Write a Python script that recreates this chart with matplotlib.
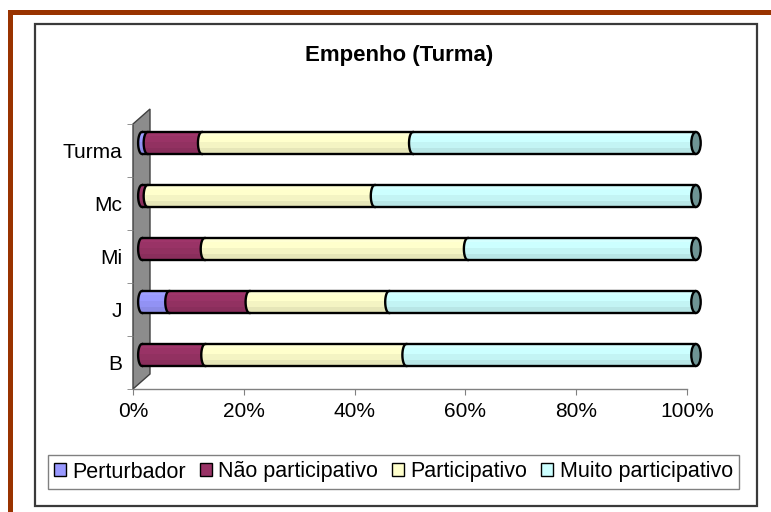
import matplotlib
matplotlib.use('Agg')
import matplotlib.pyplot as plt
import numpy as np
from matplotlib.patches import Polygon, Rectangle, Ellipse, Patch
from matplotlib.transforms import offset_copy, Affine2D
import matplotlib.colors as mcolors

# ---------------- data ----------------
categories = ['B', 'J', 'Mi', 'Mc', 'Turma']
series_names = ['Perturbador', 'Não participativo', 'Participativo', 'Muito participativo']
perturbador = [0.0, 4.9, 0.0, 0.0, 1.0]
nao_participativo = [11.4, 14.5, 11.3, 1.0, 9.8]
participativo = [36.3, 25.2, 47.5, 41.0, 38.1]
muito_participativo = [52.3, 55.4, 41.2, 58.0, 51.1]
x_ticks = [0, 20, 40, 60, 80, 100]
x_tick_labels = ['0%', '20%', '40%', '60%', '80%', '100%']
title = 'Empenho (Turma)'

colors = ['#9999FF', '#993366', '#FFFFCC', '#CCFFFF']
cap_color = '#6E9494'

plt.rcParams['font.family'] = ['Liberation Sans', 'DejaVu Sans']
FS = 15

W, H = 771, 512
fig = plt.figure(figsize=(W / 100, H / 100), dpi=100)
px = Affine2D().scale(1 / W, -1 / H).translate(0, 1) + fig.transFigure

# outer brown frame (top and left)
fig.patches.append(Rectangle((8, 10), W - 8, 5, transform=px, fc='#993300', ec='none'))
fig.patches.append(Rectangle((8, 10), 5, H - 10, transform=px, fc='#993300', ec='none'))
# chart area box
fig.patches.append(Rectangle((34.5, 23.5), 722, 482.5, transform=px, fc='none',
                             ec='#3A3A3A', lw=1.6))

fig.text(399 / W, 1 - 55 / H, title, ha='center', va='center',
         fontsize=16, fontweight='bold')

ax_l, ax_r, ax_b, ax_t = 133, 687, 389, 124
ax = fig.add_axes([ax_l / W, 1 - ax_b / H, (ax_r - ax_l) / W, (ax_b - ax_t) / H])
ax.set_xlim(0, 100)
ax.set_ylim(-0.5, len(categories) - 0.5)

for s in ['top', 'right', 'left']:
    ax.spines[s].set_visible(False)
ax.spines['bottom'].set_color('#808080')
ax.spines['bottom'].set_linewidth(1.0)
ax.set_xticks(x_ticks)
ax.set_xticklabels(x_tick_labels)
ax.tick_params(axis='x', direction='out', length=4.3, color='#808080',
               labelsize=FS, pad=5)
ax.set_yticks(range(len(categories)))
ax.set_yticklabels(categories)
ax.tick_params(axis='y', which='major', length=0, labelsize=FS, pad=8)
ax.set_yticks(np.arange(-0.5, len(categories), 1.0), minor=True)
ax.tick_params(axis='y', which='minor', length=4.3, color='#808080', direction='out')

# side wall (3D depth)
dx = 17 / (ax_r - ax_l)
dy = 15 / (ax_b - ax_t)
wall = Polygon([(0, 0), (dx, dy), (dx, 1 + dy), (0, 1)], closed=True,
               transform=ax.transAxes, fc='#8C8C8C', ec='#404040', lw=1.0,
               clip_on=False, zorder=1)
ax.add_patch(wall)

# bars (3D cylinders, shifted by half the depth)
trans = offset_copy(ax.transData, fig=fig, x=9, y=7.5, units='dots')
series = [perturbador, nao_participativo, participativo, muito_participativo]
bar_h = 0.415
b = bar_h / 2
a = 0.7
a_cap = 0.85
t = np.linspace(np.pi / 2, 3 * np.pi / 2, 40)
bands = [(0.0, 0.18, 1.04), (0.18, 0.45, 1.0), (0.45, 0.72, 0.955), (0.72, 1.0, 0.9)]


def shade(c, f):
    r, g, bb = mcolors.to_rgb(c)
    return (min(r * f, 1), min(g * f, 1), min(bb * f, 1))


for j in range(len(categories)):
    total = sum(s[j] for s in series)
    start = 0.0
    for i, s in enumerate(series):
        v = s[j] / total * 100
        if v <= 0:
            continue
        x0, x1 = start, start + v
        left = np.column_stack([x0 + a * np.cos(t), j + b * np.sin(t)])
        right = np.column_stack([x1 + a * np.cos(t[::-1]), j + b * np.sin(t[::-1])])
        poly = Polygon(np.vstack([left, right]), closed=True, transform=trans,
                       fc=colors[i], ec='none', clip_on=False, zorder=3)
        ax.add_patch(poly)
        for f0, f1, fac in bands:
            r = Rectangle((x0 - a, j + b - 2 * b * f1), v + a, 2 * b * (f1 - f0),
                          transform=trans, fc=shade(colors[i], fac), ec='none',
                          zorder=3)
            r.set_clip_path(poly)
            ax.add_patch(r)
        ax.plot([x0, x1], [j + b, j + b], transform=trans, color='black', lw=1.7,
                solid_capstyle='butt', zorder=4, clip_on=False)
        ax.plot([x0, x1], [j - b, j - b], transform=trans, color='black', lw=1.7,
                solid_capstyle='butt', zorder=4, clip_on=False)
        ax.plot(left[:, 0], left[:, 1], transform=trans, color='black', lw=1.7,
                zorder=4, clip_on=False)
        start = x1
    cap = Ellipse((start, j), 2 * a_cap, 2 * b, transform=trans, fc=cap_color,
                  ec='black', lw=1.7, clip_on=False, zorder=5)
    ax.add_patch(cap)

handles = [Patch(fc=c, ec='black', lw=1.0) for c in colors]
leg = fig.legend(handles, series_names, loc='center',
                 bbox_to_anchor=(393.5 / W, 1 - 472 / H), bbox_transform=fig.transFigure,
                 ncol=4, fontsize=15.5, handlelength=0.55, handleheight=0.55,
                 handletextpad=0.3, columnspacing=0.65, borderpad=0.3,
                 fancybox=False, framealpha=1, edgecolor='#808080')
leg.get_frame().set_linewidth(1.0)

fig.savefig('out.png', dpi=100)
